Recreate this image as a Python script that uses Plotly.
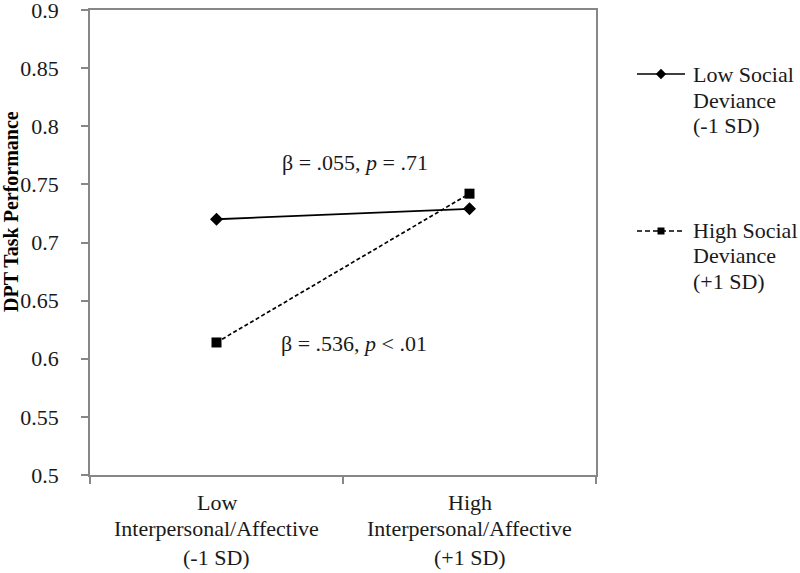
import plotly.graph_objects as go

W, H = 800, 573

# ---- data ----
categories = ["Low Interpersonal/Affective (-1 SD)", "High Interpersonal/Affective (+1 SD)"]
category_lines = [["Low", "Interpersonal/Affective", "(-1 SD)"],
                  ["High", "Interpersonal/Affective", "(+1 SD)"]]
low_social_deviance = [0.720, 0.729]
high_social_deviance = [0.614, 0.742]
series_lines = [["Low Social", "Deviance", "(-1 SD)"],
                ["High Social", "Deviance", "(+1 SD)"]]
y_ticks = [0.5, 0.55, 0.6, 0.65, 0.7, 0.75, 0.8, 0.85, 0.9]
y_tick_labels = ["0.5", "0.55", "0.6", "0.65", "0.7", "0.75", "0.8", "0.85", "0.9"]
slope_labels = ["β = .055, <i>p</i> = .71", "β = .536, <i>p</i> &lt; .01"]
y_title = "DPT Task Performance"

# ---- layout geometry (pixels) ----
PL, PR, PT, PB = 90, 596, 10, 475
FONT = "Liberation Serif, Times New Roman, serif"
AX = "#878787"
TXT = "#1a1a1a"

x_idx = list(range(len(categories)))

fig = go.Figure()
fig.add_trace(go.Scatter(
    x=x_idx, y=low_social_deviance, mode="lines+markers", name="Low Social Deviance (-1 SD)",
    line=dict(color="black", width=1.8), marker=dict(symbol="diamond", size=10, color="black"),
    showlegend=False))
fig.add_trace(go.Scatter(
    x=x_idx, y=high_social_deviance, mode="lines+markers", name="High Social Deviance (+1 SD)",
    line=dict(color="black", width=1.7, dash="4px,2.5px"),
    marker=dict(symbol="square", size=10, color="black"),
    showlegend=False))

# legend samples on a separate full-page pixel axis
leg_y = [74, 231]
leg_styles = [dict(dash="solid", width=1.7, sym="diamond", size=8),
              dict(dash="5px,3px", width=1.5, sym="square", size=7)]
for yy, st in zip(leg_y, leg_styles):
    fig.add_trace(go.Scatter(x=[637, 685], y=[yy, yy], mode="lines", xaxis="x2", yaxis="y2",
                             line=dict(color="black", width=st["width"], dash=st["dash"]),
                             showlegend=False, hoverinfo="skip"))
    fig.add_trace(go.Scatter(x=[661], y=[yy], mode="markers", xaxis="x2", yaxis="y2",
                             marker=dict(symbol=st["sym"], size=st["size"], color="black"),
                             showlegend=False, hoverinfo="skip"))

ann = []
# legend text
leg_text_y = [[75, 100, 125], [231, 256, 281]]
for lines, ys in zip(series_lines, leg_text_y):
    for t, yy in zip(lines, ys):
        ann.append(dict(text=t, xref="paper", yref="paper", x=692 / W, y=1 - yy / H,
                        xanchor="left", yanchor="middle", showarrow=False, borderpad=0,
                        font=dict(family=FONT, size=22, color=TXT)))
# category labels
cat_y = [502, 528, 557]
for i, lines in enumerate(category_lines):
    for t, yy in zip(lines, cat_y):
        ann.append(dict(text=t, xref="x", yref="paper", x=i, y=1 - yy / H,
                        xanchor="center", yanchor="middle", showarrow=False, borderpad=0,
                        font=dict(family=FONT, size=22, color=TXT)))
# slope labels
ann.append(dict(text=slope_labels[0], xref="x", yref="y", x=0.547, y=0.7684,
                xanchor="center", yanchor="middle", showarrow=False,
                font=dict(family=FONT, size=22, color=TXT)))
ann.append(dict(text=slope_labels[1], xref="x", yref="y", x=0.543, y=0.6127,
                xanchor="center", yanchor="middle", showarrow=False,
                font=dict(family=FONT, size=22, color=TXT)))
# y title
ann.append(dict(text="<b>" + y_title + "</b>", xref="paper", yref="paper", x=11 / W, y=1 - 212 / H,
                xanchor="center", yanchor="middle", textangle=-90, showarrow=False, borderpad=0,
                font=dict(family=FONT, size=20, color="black")))

fig.update_layout(
    width=W, height=H, template="none",
    margin=dict(l=0, r=0, t=0, b=0),
    paper_bgcolor="white", plot_bgcolor="rgba(0,0,0,0)",
    xaxis=dict(domain=[PL / W, PR / W], range=[-0.5, 1.5], tickmode="array",
               tickvals=[-0.5, 0.5, 1.5], showticklabels=False, ticks="outside", ticklen=7,
               tickcolor=AX, tickwidth=1.5, showline=True, linecolor=AX, linewidth=1.5,
               mirror=True, showgrid=False, zeroline=False, automargin=False, fixedrange=True),
    yaxis=dict(domain=[1 - PB / H, 1 - PT / H], range=[0.5, 0.9], tickmode="array",
               tickvals=y_ticks, ticktext=y_tick_labels, ticks="outside", ticklen=7,
               tickcolor=AX, tickwidth=1.5, showline=True, linecolor=AX, linewidth=1.5,
               mirror=True, showgrid=False, zeroline=False, automargin=False,
               ticklabeloverflow="allow",
               tickfont=dict(family=FONT, size=22, color=TXT), ticklabelstandoff=18),
    xaxis2=dict(domain=[0, 1], range=[0, W], anchor="y2", visible=False,
                showgrid=False, zeroline=False),
    yaxis2=dict(domain=[0, 1], range=[H, 0], anchor="x2", visible=False,
                showgrid=False, zeroline=False),
    annotations=ann,
)

fig.write_html("out.html", config={"displayModeBar": False},
               post_script="document.body.style.margin='0px';document.body.style.overflow='hidden';")
